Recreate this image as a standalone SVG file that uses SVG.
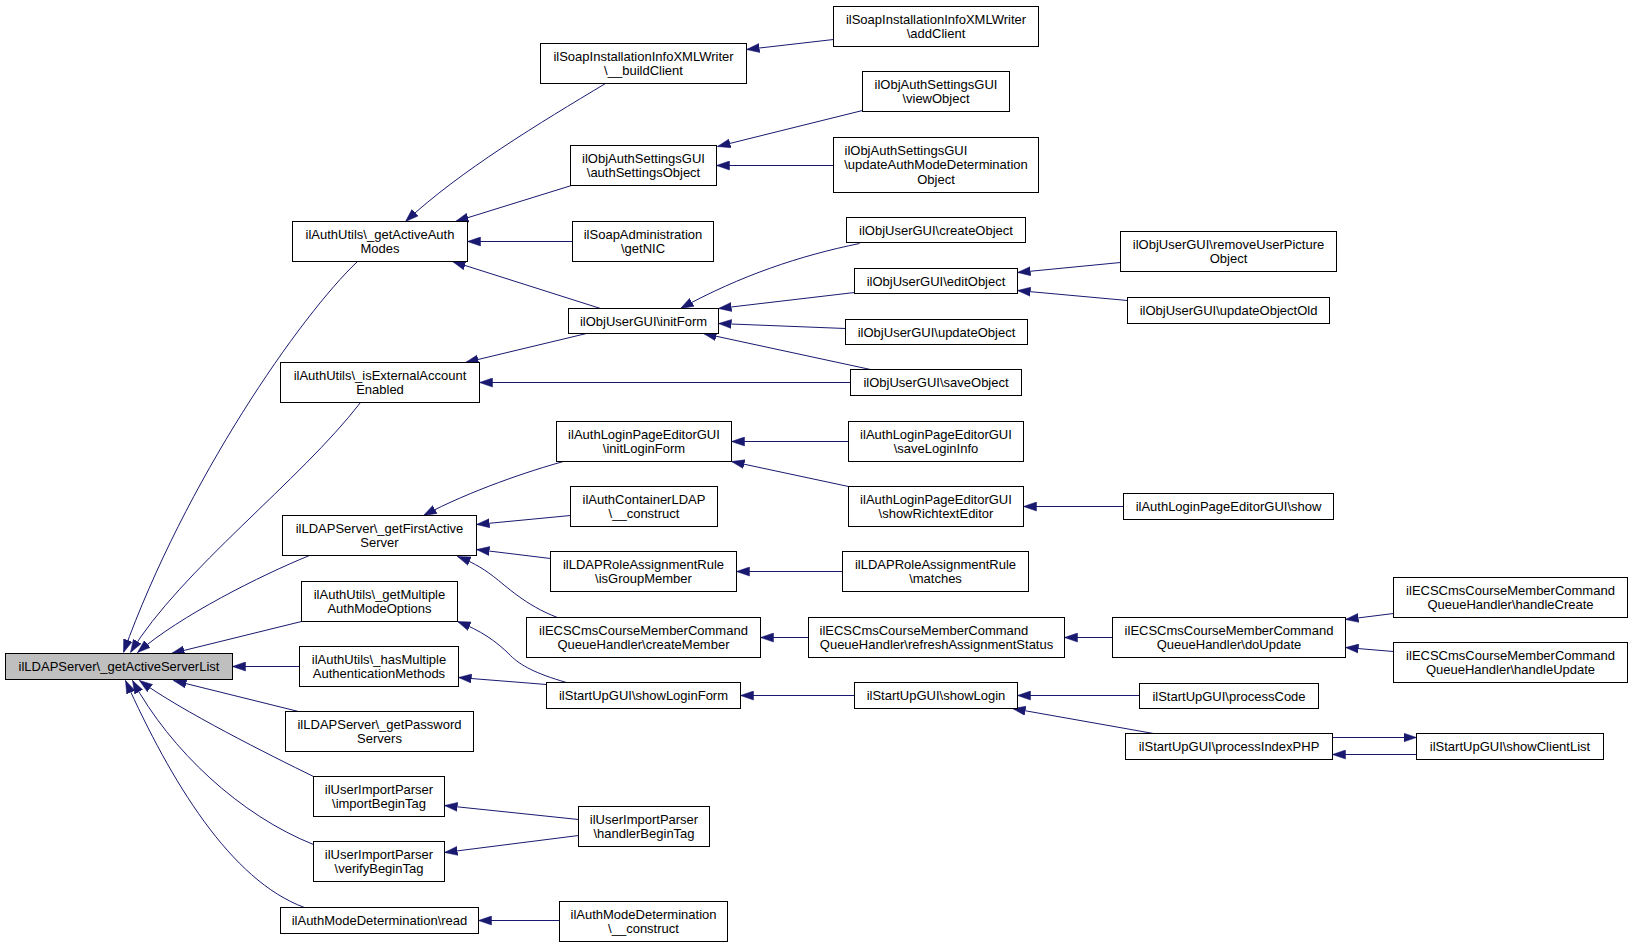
<svg xmlns="http://www.w3.org/2000/svg" width="1632" height="947" viewBox="0 0 1632 947">
<style>
.n rect{fill:#fff;stroke:#000;stroke-width:1}
.n.main rect{fill:#bfbfbf}
.n text{font-family:"Liberation Sans",Arial,sans-serif;font-size:13px;fill:#000;text-anchor:middle}
.n text.l{text-anchor:start}
.e path{fill:none;stroke:#191970;stroke-width:1}
</style>
<defs>
<marker id="ah" markerUnits="userSpaceOnUse" viewBox="0 0 13 10" markerWidth="13" markerHeight="10" refX="13" refY="5" orient="auto">
<path d="M0,0.5 L13,5 L0,9.5 z" fill="#191970" stroke="#191970" stroke-width="0.5"/>
</marker>
</defs>
<rect x="0" y="0" width="1632" height="947" fill="#fff"/>
<g transform="translate(0.5 0.5)">
<g id="edges" class="e">
<path marker-end="url(#ah)" d="M357,261 C300,315 185,480 123,652"/>
<path marker-end="url(#ah)" d="M360,402 C300,480 180,570 130,652"/>
<path marker-end="url(#ah)" d="M309,555 C260,575 180,615 137,652"/>
<path marker-end="url(#ah)" d="M301,621 L171,653"/>
<path marker-end="url(#ah)" d="M299,666 L232,666"/>
<path marker-end="url(#ah)" d="M298,711 L173,680"/>
<path marker-end="url(#ah)" d="M313,776 C270,755 180,710 139,680"/>
<path marker-end="url(#ah)" d="M313,844 C240,815 170,750 132,680"/>
<path marker-end="url(#ah)" d="M304,907 C230,880 170,780 125,680"/>
<path marker-end="url(#ah)" d="M605,83 C540,122 460,170 405,221"/>
<path marker-end="url(#ah)" d="M571,185 L455,221"/>
<path marker-end="url(#ah)" d="M572,241 L467,241"/>
<path marker-end="url(#ah)" d="M600,308 L452,261"/>
<path marker-end="url(#ah)" d="M833,39 L746,49"/>
<path marker-end="url(#ah)" d="M862,110 L717,146"/>
<path marker-end="url(#ah)" d="M833,165 L716,165"/>
<path marker-end="url(#ah)" d="M859,243 C800,255 740,275 680,308"/>
<path marker-end="url(#ah)" d="M854,292 L718,308"/>
<path marker-end="url(#ah)" d="M1120,262 L1017,272"/>
<path marker-end="url(#ah)" d="M1127,300 L1017,290"/>
<path marker-end="url(#ah)" d="M845,328 L718,323"/>
<path marker-end="url(#ah)" d="M870,369 L703,333"/>
<path marker-end="url(#ah)" d="M586,333 L465,362"/>
<path marker-end="url(#ah)" d="M850,382 L479,382"/>
<path marker-end="url(#ah)" d="M563,461 C530,470 470,490 423,515"/>
<path marker-end="url(#ah)" d="M570,515 L476,524"/>
<path marker-end="url(#ah)" d="M550,558 L476,549"/>
<path marker-end="url(#ah)" d="M557,617 C525,605 505,585 493,576 C480,566 470,561 457,556"/>
<path marker-end="url(#ah)" d="M848,441 L731,441"/>
<path marker-end="url(#ah)" d="M848,486 L731,461"/>
<path marker-end="url(#ah)" d="M1123,506 L1023,506"/>
<path marker-end="url(#ah)" d="M842,571 L736,571"/>
<path marker-end="url(#ah)" d="M808,637 L760,637"/>
<path marker-end="url(#ah)" d="M1112,637 L1064,637"/>
<path marker-end="url(#ah)" d="M1393,613 L1345,619"/>
<path marker-end="url(#ah)" d="M1393,651 L1345,647"/>
<path marker-end="url(#ah)" d="M566,682 C535,673 520,665 510,655 C495,640 480,630 457,621"/>
<path marker-end="url(#ah)" d="M546,684 L458,677"/>
<path marker-end="url(#ah)" d="M854,695 L740,695"/>
<path marker-end="url(#ah)" d="M1139,695 L1017,695"/>
<path marker-end="url(#ah)" d="M1153,733 L1012,708"/>
<path marker-end="url(#ah)" d="M1332,737 L1416,737"/>
<path marker-end="url(#ah)" d="M1416,754 L1332,754"/>
<path marker-end="url(#ah)" d="M578,819 L444,805"/>
<path marker-end="url(#ah)" d="M578,835 L444,852"/>
<path marker-end="url(#ah)" d="M559,920 L478,920"/>
</g>
<g id="n0" class="n main"><rect x="5" y="653" width="227" height="26"/><text x="118.5" y="670.5">ilLDAPServer\_getActiveServerList</text></g>
<g id="n1" class="n"><rect x="292" y="221" width="175" height="40"/><text x="379.5" y="238.5">ilAuthUtils\_getActiveAuth</text><text x="379.5" y="252.5">Modes</text></g>
<g id="n2" class="n"><rect x="280" y="362" width="199" height="40"/><text x="379.5" y="379.5">ilAuthUtils\_isExternalAccount</text><text x="379.5" y="393.5">Enabled</text></g>
<g id="n3" class="n"><rect x="282" y="515" width="194" height="40"/><text x="379" y="532.5">ilLDAPServer\_getFirstActive</text><text x="379" y="546.5">Server</text></g>
<g id="n4" class="n"><rect x="301" y="581" width="156" height="40"/><text x="379" y="598.5">ilAuthUtils\_getMultiple</text><text x="379" y="612.5">AuthModeOptions</text></g>
<g id="n5" class="n"><rect x="299" y="646" width="159" height="40"/><text x="378.5" y="663.5">ilAuthUtils\_hasMultiple</text><text x="378.5" y="677.5">AuthenticationMethods</text></g>
<g id="n6" class="n"><rect x="285" y="711" width="188" height="40"/><text x="379" y="728.5">ilLDAPServer\_getPassword</text><text x="379" y="742.5">Servers</text></g>
<g id="n7" class="n"><rect x="313" y="776" width="131" height="40"/><text x="378.5" y="793.5">ilUserImportParser</text><text x="378.5" y="807.5">\importBeginTag</text></g>
<g id="n8" class="n"><rect x="313" y="841" width="131" height="40"/><text x="378.5" y="858.5">ilUserImportParser</text><text x="378.5" y="872.5">\verifyBeginTag</text></g>
<g id="n9" class="n"><rect x="280" y="907" width="198" height="26"/><text x="379" y="924.5">ilAuthModeDetermination\read</text></g>
<g id="n10" class="n"><rect x="540" y="43" width="206" height="40"/><text x="643" y="60.5">ilSoapInstallationInfoXMLWriter</text><text x="643" y="74.5">\__buildClient</text></g>
<g id="n11" class="n"><rect x="570" y="145" width="146" height="40"/><text x="643" y="162.5">ilObjAuthSettingsGUI</text><text x="643" y="176.5">\authSettingsObject</text></g>
<g id="n12" class="n"><rect x="572" y="221" width="141" height="40"/><text x="642.5" y="238.5">ilSoapAdministration</text><text x="642.5" y="252.5">\getNIC</text></g>
<g id="n13" class="n"><rect x="568" y="308" width="150" height="25"/><text x="643" y="325">ilObjUserGUI\initForm</text></g>
<g id="n14" class="n"><rect x="556" y="421" width="175" height="40"/><text x="643.5" y="438.5">ilAuthLoginPageEditorGUI</text><text x="643.5" y="452.5">\initLoginForm</text></g>
<g id="n15" class="n"><rect x="570" y="486" width="147" height="40"/><text x="643.5" y="503.5">ilAuthContainerLDAP</text><text x="643.5" y="517.5">\__construct</text></g>
<g id="n16" class="n"><rect x="550" y="551" width="186" height="40"/><text x="643" y="568.5">ilLDAPRoleAssignmentRule</text><text x="643" y="582.5">\isGroupMember</text></g>
<g id="n17" class="n"><rect x="526" y="617" width="234" height="40"/><text x="643" y="634.5">ilECSCmsCourseMemberCommand</text><text x="643" y="648.5">QueueHandler\createMember</text></g>
<g id="n18" class="n"><rect x="546" y="682" width="194" height="26"/><text x="643" y="699.5">ilStartUpGUI\showLoginForm</text></g>
<g id="n19" class="n"><rect x="578" y="806" width="131" height="40"/><text x="643.5" y="823.5">ilUserImportParser</text><text x="643.5" y="837.5">\handlerBeginTag</text></g>
<g id="n20" class="n"><rect x="559" y="901" width="168" height="40"/><text x="643" y="918.5">ilAuthModeDetermination</text><text x="643" y="932.5">\__construct</text></g>
<g id="n21" class="n"><rect x="833" y="6" width="205" height="40"/><text x="935.5" y="23.5">ilSoapInstallationInfoXMLWriter</text><text x="935.5" y="37.5">\addClient</text></g>
<g id="n22" class="n"><rect x="862" y="71" width="147" height="40"/><text x="935.5" y="88.5">ilObjAuthSettingsGUI</text><text x="935.5" y="102.5">\viewObject</text></g>
<g id="n23" class="n"><rect x="833" y="137" width="205" height="55"/><text class="l" x="844" y="154">ilObjAuthSettingsGUI</text><text x="935.5" y="168.5">\updateAuthModeDetermination</text><text x="935.5" y="183">Object</text></g>
<g id="n24" class="n"><rect x="846" y="217" width="179" height="25"/><text x="935.5" y="234">ilObjUserGUI\createObject</text></g>
<g id="n25" class="n"><rect x="854" y="268" width="163" height="25"/><text x="935.5" y="285">ilObjUserGUI\editObject</text></g>
<g id="n26" class="n"><rect x="845" y="319" width="182" height="25"/><text x="936" y="336">ilObjUserGUI\updateObject</text></g>
<g id="n27" class="n"><rect x="850" y="369" width="171" height="26"/><text x="935.5" y="386.5">ilObjUserGUI\saveObject</text></g>
<g id="n28" class="n"><rect x="848" y="421" width="175" height="40"/><text x="935.5" y="438.5">ilAuthLoginPageEditorGUI</text><text x="935.5" y="452.5">\saveLoginInfo</text></g>
<g id="n29" class="n"><rect x="848" y="486" width="175" height="40"/><text x="935.5" y="503.5">ilAuthLoginPageEditorGUI</text><text x="935.5" y="517.5">\showRichtextEditor</text></g>
<g id="n30" class="n"><rect x="842" y="551" width="186" height="40"/><text x="935" y="568.5">ilLDAPRoleAssignmentRule</text><text x="935" y="582.5">\matches</text></g>
<g id="n31" class="n"><rect x="808" y="617" width="256" height="40"/><text class="l" x="819" y="634.5">ilECSCmsCourseMemberCommand</text><text x="936" y="648.5">QueueHandler\refreshAssignmentStatus</text></g>
<g id="n32" class="n"><rect x="854" y="682" width="163" height="26"/><text x="935.5" y="699.5">ilStartUpGUI\showLogin</text></g>
<g id="n33" class="n"><rect x="1120" y="231" width="216" height="40"/><text x="1228" y="248.5">ilObjUserGUI\removeUserPicture</text><text x="1228" y="262.5">Object</text></g>
<g id="n34" class="n"><rect x="1127" y="297" width="202" height="26"/><text x="1228" y="314.5">ilObjUserGUI\updateObjectOld</text></g>
<g id="n35" class="n"><rect x="1123" y="493" width="210" height="26"/><text x="1228" y="510.5">ilAuthLoginPageEditorGUI\show</text></g>
<g id="n36" class="n"><rect x="1112" y="617" width="233" height="40"/><text x="1228.5" y="634.5">ilECSCmsCourseMemberCommand</text><text x="1228.5" y="648.5">QueueHandler\doUpdate</text></g>
<g id="n37" class="n"><rect x="1139" y="683" width="179" height="25"/><text x="1228.5" y="700">ilStartUpGUI\processCode</text></g>
<g id="n38" class="n"><rect x="1125" y="733" width="207" height="26"/><text x="1228.5" y="750.5">ilStartUpGUI\processIndexPHP</text></g>
<g id="n39" class="n"><rect x="1393" y="577" width="234" height="40"/><text x="1510" y="594.5">ilECSCmsCourseMemberCommand</text><text x="1510" y="608.5">QueueHandler\handleCreate</text></g>
<g id="n40" class="n"><rect x="1393" y="642" width="234" height="40"/><text x="1510" y="659.5">ilECSCmsCourseMemberCommand</text><text x="1510" y="673.5">QueueHandler\handleUpdate</text></g>
<g id="n41" class="n"><rect x="1416" y="733" width="187" height="26"/><text x="1509.5" y="750.5">ilStartUpGUI\showClientList</text></g>
</g>
</svg>
